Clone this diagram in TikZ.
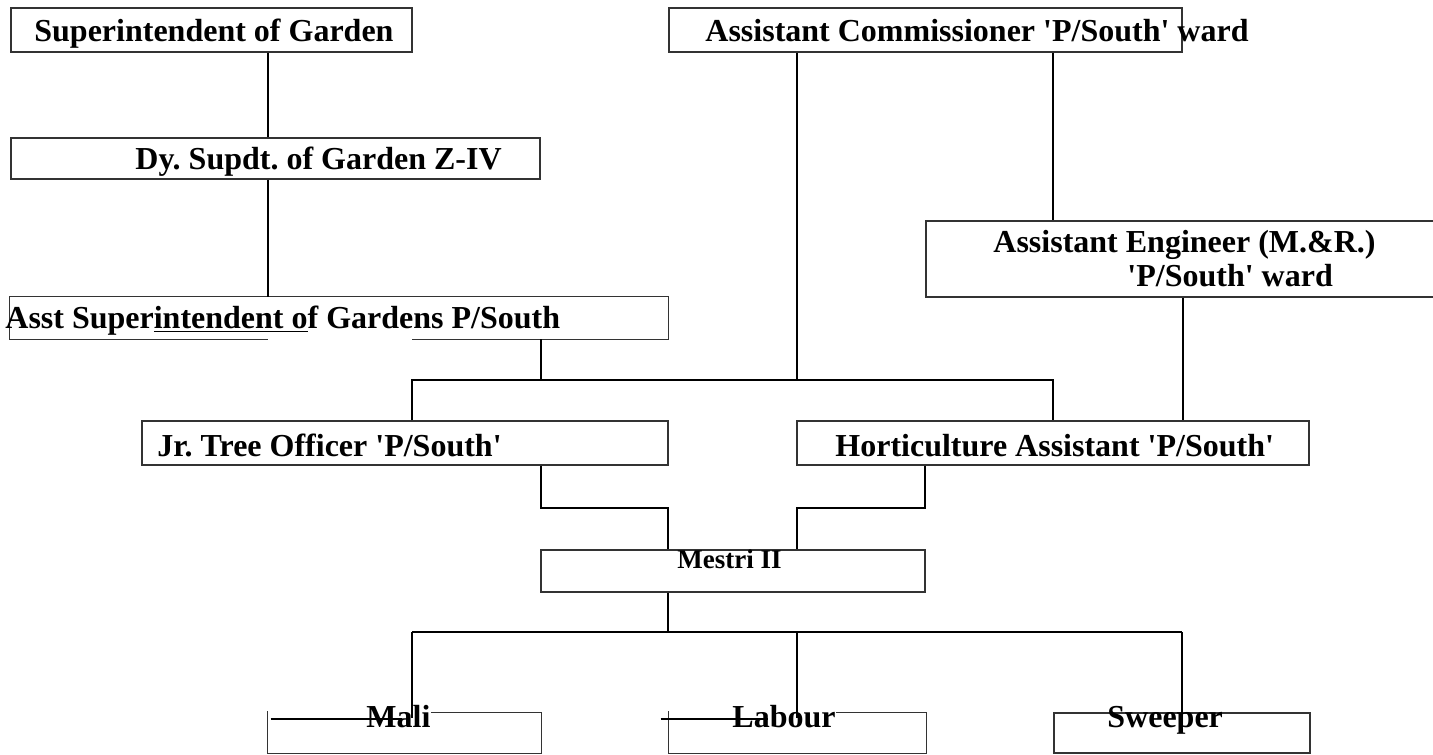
\documentclass[tikz,border=0pt]{standalone}
\usepackage{fontspec}
\setmainfont{Liberation Serif}
\usetikzlibrary{fit}
\newcommand{\sqt}{\textquotesingle}
\frenchspacing
\begin{document}
\begin{tikzpicture}[x=0.5pt,y=-0.5pt,
  box/.style={draw=black!80, line width=0.7pt, inner sep=0pt},
  openbox/.style={inner sep=0pt},
  txt/.style={font=\bfseries\fontsize{16}{19}\selectfont, inner sep=0pt, anchor=base west},
  smalltxt/.style={font=\bfseries\fontsize{13.5}{16}\selectfont, inner sep=0pt, anchor=base west},
  conn/.style={draw=black, line width=0.8pt},
  strike/.style={draw=black, line width=1.1pt}]
\useasboundingbox (0,0) rectangle (1433,754);
% x positions of connectors
\coordinate (cA) at (268,0);
\coordinate (cB) at (541,0);
\coordinate (cC) at (797,0);
\coordinate (cD) at (1053,0);
\coordinate (cE) at (1183,0);
\coordinate (cF) at (412,0);
\coordinate (cG) at (668,0);
\coordinate (cH) at (925,0);
\coordinate (cI) at (1182,0);
\coordinate (bus1) at (0,380);
\coordinate (bus2) at (0,508);
\coordinate (bus3) at (0,632);
\coordinate (dropend) at (0,718);
% boxes
\node[box, fit={(11,8) (412,52)}] (sup) {};
\node[txt] (tsup) at (34,42) {Superintendent of Garden};
\node[box, fit={(11,138) (540,179)}] (dy) {};
\node[txt] (tdy) at (135,170) {Dy. Supdt. of Garden Z-IV};
\node[openbox, fit={(10,297) (668,339)}] (asst) {};
\draw[draw=black!80, line width=0.7pt] (cF |- asst.south) -- (asst.south east) -- (asst.north east) -- (asst.north west) -- (asst.south west) -- (cA |- asst.south);
\node[txt] (tasst) at (5,328) {Asst Super\underline{intendent o}f Gardens P/South};
\node[box, fit={(669,8) (1182,52)}] (ac) {};
\node[txt] (tac) at (705,42) {Assistant Commissioner \sqt P/South\sqt{} ward};
\node[box, fit={(926,221) (1445,297)}] (ae) {};
\node[txt] (tae1) at (993,252) {Assistant Engineer (M.\&R.)};
\node[txt] (tae2) at (1127,286) {\sqt P/South\sqt{} ward};
\node[box, fit={(142,421) (668,465)}] (jr) {};
\node[txt] (tjr) at (157,456) {Jr. Tree Officer \sqt P/South\sqt};
\node[box, fit={(797,421) (1309,465)}] (hort) {};
\node[txt] (thort) at (835,456) {Horticulture Assistant \sqt P/South\sqt};
\node[box, fit={(541,550) (925,592)}] (mes) {};
\node[smalltxt] (tmes) at (677,568) {Mestri II};
\node[openbox, fit={(268,713) (541,753)}] (mali) {};
\node[txt] (tmali) at (366,727) {Mali};
\draw[draw=black!80, line width=0.7pt] (tmali.east |- mali.north) -- (mali.north east) -- (mali.south east) -- (mali.south west) -- ([yshift=1pt]mali.north west);
\draw[strike] ([xshift=1.5pt,yshift=-3pt]mali.north west) -- ([xshift=18pt,yshift=-3pt]tmali.north west |- mali.north);
\node[openbox, fit={(669,713) (926,753)}] (lab) {};
\node[txt] (tlab) at (732,727) {Labour};
\draw[draw=black!80, line width=0.7pt] (tlab.east |- lab.north) -- (lab.north east) -- (lab.south east) -- (lab.south west) -- ([yshift=1pt]lab.north west);
\draw[strike] ([xshift=-4pt,yshift=-3pt]lab.north west) -- ([xshift=18pt,yshift=-3pt]tlab.north west |- lab.north);
\node[box, fit={(1054,713) (1310,753)}] (swp) {};
\node[txt] (tswp) at (1107,727) {Sweeper};
% connectors
\draw[conn] (cA |- sup.south) -- (cA |- dy.north);
\draw[conn] (cA |- dy.south) -- (cA |- asst.north);
\draw[conn] (cB |- asst.south) -- (cB |- bus1);
\draw[conn] (cC |- ac.south) -- (cC |- bus1);
\draw[conn] (cF |- jr.north) -- (cF |- bus1) -- (cD |- bus1) -- (cD |- hort.north);
\draw[conn] (cD |- ac.south) -- (cD |- ae.north);
\draw[conn] (cE |- ae.south) -- (cE |- hort.north);
\draw[conn] (cB |- jr.south) -- (cB |- bus2) -- (cG |- bus2) -- (cG |- mes.north);
\draw[conn] (cH |- hort.south) -- (cH |- bus2) -- (cC |- bus2) -- (cC |- mes.north);
\draw[conn] (cG |- mes.south) -- (cG |- bus3);
\draw[conn] (cF |- bus3) -- (cI |- bus3);
\draw[conn] (cF |- bus3) -- (cF |- dropend);
\draw[conn] (cC |- bus3) -- (cC |- dropend);
\draw[conn] (cI |- bus3) -- (cI |- dropend);
\end{tikzpicture}
\end{document}
